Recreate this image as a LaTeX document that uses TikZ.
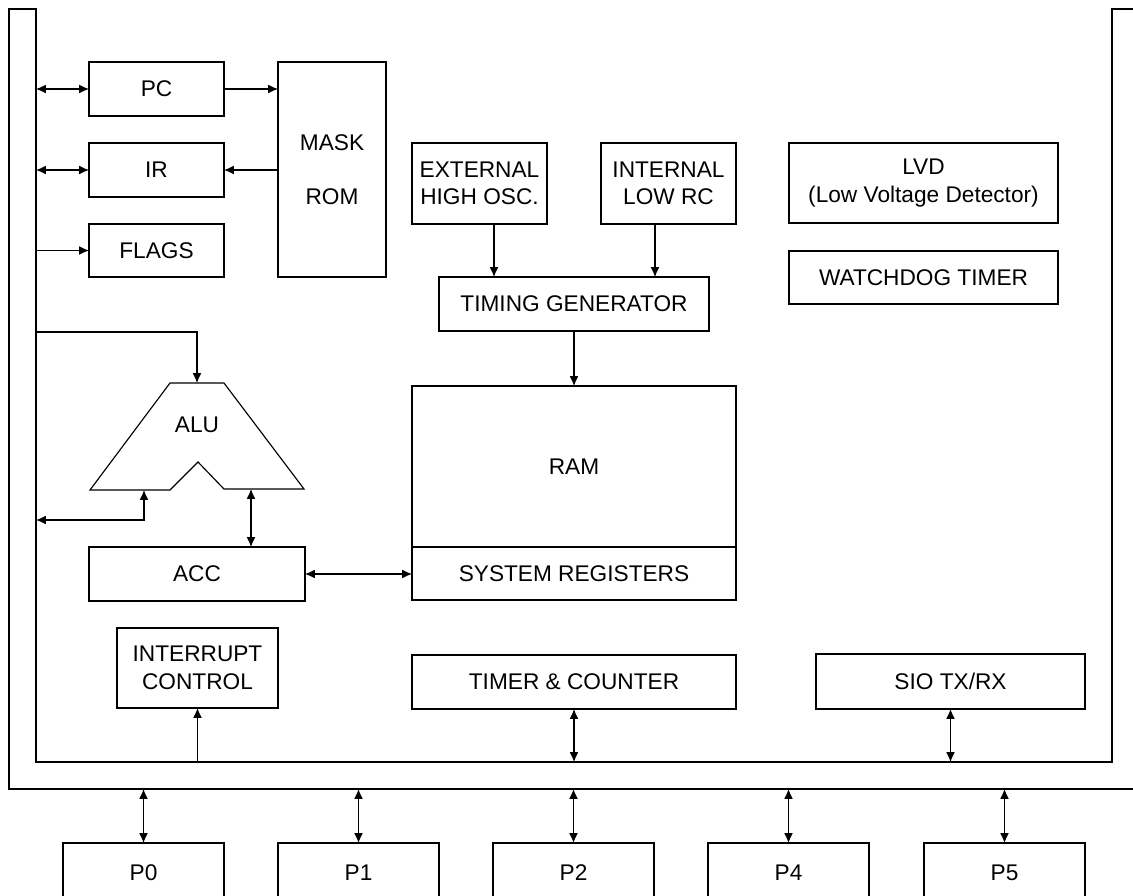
\documentclass[tikz,border=0pt]{standalone}
\usepackage{fontspec}
\setmainfont{Liberation Sans}
\usetikzlibrary{arrows.meta,calc}
\tikzset{
  ln/.style={line width=0.65pt, draw=black},
  blk/.style={ln, draw, inner sep=0pt, outer sep=0pt, align=center,
              font=\fontsize{12.9}{15.6}\selectfont},
  lbl/.style={inner sep=0pt, align=center, font=\fontsize{12.9}{15.6}\selectfont},
  arr/.style={ln, -{Latex[length=5.6pt,width=5pt]}},
  darr/.style={ln, {Latex[length=5.6pt,width=5pt]}-{Latex[length=5.6pt,width=5pt]}}
}
\newcommand\blk[6]{\node[blk, minimum width={(#4-#2)*0.02cm}, minimum height={(#5-#3)*0.02cm}] (#1) at ({(#2+#4)/2},{(#3+#5)/2}) {#6};}
\begin{document}
\begin{tikzpicture}[x=0.02cm, y=-0.02cm]
\useasboundingbox (0,0) rectangle (1133,896);
\clip (0,0) rectangle (1133,896);
\fill[white] (0,0) rectangle (1133,896);

% bus outline
\draw[ln] (1140,9) -- (1112,9) -- (1112,762) -- (36,762) -- (36,9) -- (9,9) -- (9,789) -- (1140,789);
\coordinate (busL) at (36,0);
\coordinate (busIn) at (0,762);
\coordinate (busOut) at (0,789);

% blocks
\blk{pc}{89}{62}{224}{116}{PC}
\blk{ir}{89}{143}{224}{197}{IR}
\blk{flags}{89}{224}{224}{277}{FLAGS}
\blk{rom}{278}{62}{386}{277}{MASK\\[15.4pt]ROM}
\blk{ext}{412}{143}{547}{224}{EXTERNAL\\HIGH OSC.}
\blk{int}{601}{143}{736}{224}{INTERNAL\\LOW RC}
\blk{tg}{439}{277}{709}{331}{TIMING GENERATOR}
\blk{ram}{412}{386}{736}{547}{RAM}
\blk{sys}{412}{547}{736}{600}{SYSTEM REGISTERS}
\blk{lvd}{789}{143}{1058}{223}{LVD\\(Low Voltage Detector)}
\blk{wdt}{789}{251}{1058}{304}{WATCHDOG TIMER}
\blk{acc}{89}{547}{305}{601}{ACC}
\blk{intr}{117}{628}{278}{708}{INTERRUPT\\CONTROL}
\blk{tmr}{412}{655}{736}{709}{TIMER \& COUNTER}
\blk{sio}{816}{654}{1085}{709}{SIO TX/RX}
\blk{p0}{63}{843}{224}{903}{P0}
\blk{p1}{278}{843}{439}{903}{P1}
\blk{p2}{493}{843}{654}{903}{P2}
\blk{p4}{708}{843}{869}{903}{P4}
\blk{p5}{924}{843}{1085}{903}{P5}

% ALU
\draw[ln] (170,383) -- (224,383) -- (304,489) -- (224,489) -- (198,462) -- (170,490) -- (90,490) -- cycle;
\node[lbl] (alu) at (197,425) {ALU};
\coordinate (aluTop) at (197,383);
\coordinate (aluL) at (144,490);
\coordinate (aluR) at (251,489);
\coordinate (bALUi) at (36,332);
\coordinate (bALUo) at (36,520);

% connectors
\draw[darr] (pc.west -| busL) -- (pc.west);
\draw[arr] (pc.east) -- (pc.east -| rom.west);
\draw[darr] (ir.west -| busL) -- (ir.west);
\draw[arr] (ir.east -| rom.west) -- (ir.east);
\draw[arr] (flags.west -| busL) -- (flags.west);
\draw[arr] (bALUi) -| (aluTop);
\draw[darr] (bALUo) -| (aluL);
\draw[darr] (aluR) -- (aluR |- acc.north);
\draw[darr] (acc.east) -- (acc.east -| sys.west);

\coordinate (tgA) at ([xshift=-1.6cm]tg.north);
\coordinate (tgB) at ([xshift=1.62cm]tg.north);
\draw[arr] (tgA |- ext.south) -- (tgA);
\draw[arr] (tgB |- int.south) -- (tgB);
\draw[arr] (tg.south) -- (ram.north);

\draw[arr] (intr.south |- busIn) -- (intr.south);
\draw[darr] (tmr.south |- busIn) -- (tmr.south);
\draw[darr] (sio.south |- busIn) -- (sio.south);

\draw[darr] (p0.north |- busOut) -- (p0.north);
\draw[darr] (p1.north |- busOut) -- (p1.north);
\draw[darr] (p2.north |- busOut) -- (p2.north);
\draw[darr] (p4.north |- busOut) -- (p4.north);
\draw[darr] (p5.north |- busOut) -- (p5.north);
\end{tikzpicture}
\end{document}
